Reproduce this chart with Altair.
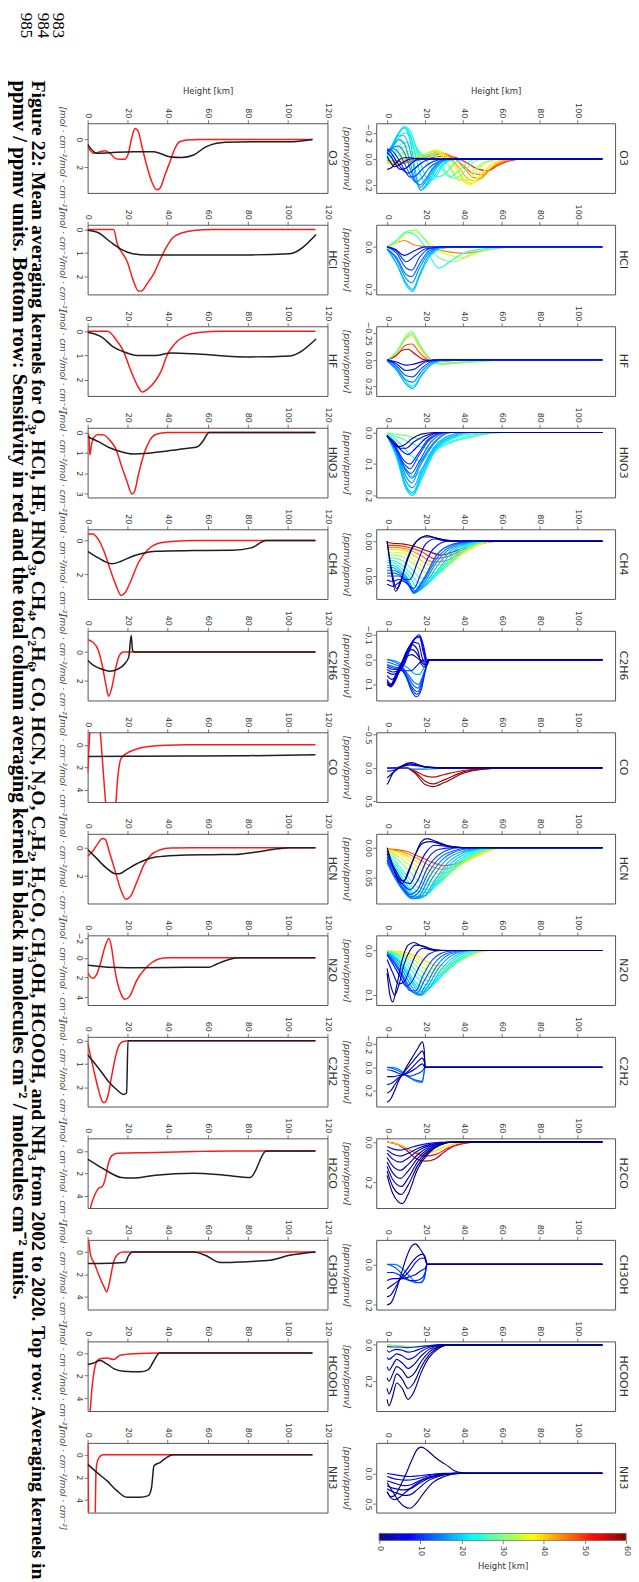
import altair as alt
import pandas as pd

SPECIES = ["O3", "HCl", "HF", "HNO3", "CH4", "C2H6", "CO", "HCN", "N2O",
           "C2H2", "H2CO", "CH3OH", "HCOOH", "NH3"]

AK_DOMAIN = {"O3": (-0.277, 0.262), "HCl": (-0.104, 0.224), "HF": (-0.317, 0.34),
             "HNO3": (-0.015, 0.206), "CH4": (-0.017, 0.083), "C2H6": (-0.116, 0.165),
             "CO": (-0.53, 0.51), "HCN": (-0.023, 0.093), "N2O": (-0.034, 0.122),
             "C2H2": (-0.263, 0.337), "H2CO": (-0.018, 0.327), "CH3OH": (-0.12, 0.222),
             "HCOOH": (-0.019, 0.364), "NH3": (-0.5, 0.64)}
AK_TICKS = {"O3": [-0.2, 0.0, 0.2], "HCl": [0.0, 0.2], "HF": [-0.25, 0.0, 0.25],
            "HNO3": [0.0, 0.1, 0.2], "CH4": [0.0, 0.05], "C2H6": [-0.1, 0.0, 0.1],
            "CO": [-0.5, 0.0, 0.5], "HCN": [0.0, 0.05], "N2O": [0.0, 0.1],
            "C2H2": [-0.2, 0.0, 0.2], "H2CO": [0.0, 0.2], "CH3OH": [0.0, 0.2],
            "HCOOH": [0.0, 0.2], "NH3": [0.0, 0.5]}
AK_FORMAT = {"HF": ".2f", "CH4": ".2f", "HCN": ".2f"}

SENS_DOMAIN = {"O3": (-1.16, 3.84), "HCl": (-0.2, 2.76), "HF": (-0.21, 2.68),
               "HNO3": (-0.23, 3.18), "CH4": (-0.67, 3.45), "C2H6": (-1.47, 3.36),
               "CO": (-1.12, 5.1), "HCN": (-0.99, 3.95), "N2O": (-2.27, 4.77),
               "C2H2": (-0.17, 2.83), "H2CO": (-1.12, 5.1), "CH3OH": (-1.08, 5.14),
               "HCOOH": (-1.02, 5.11), "NH3": (-1.06, 5.12)}
SENS_TICKS = {"O3": [0, 2], "HCl": [0, 1, 2], "HF": [0, 1, 2], "HNO3": [0, 1, 2, 3],
              "CH4": [0, 2], "C2H6": [0, 2], "CO": [0, 2, 4], "HCN": [0, 2],
              "N2O": [-2, 0, 2, 4], "C2H2": [0, 1, 2], "H2CO": [0, 2, 4],
              "CH3OH": [0, 2, 4], "HCOOH": [0, 2, 4], "NH3": [0, 2, 4]}

HEIGHT_TICKS_AK = [0, 20, 40, 60, 80, 100]
HEIGHT_TICKS_SENS = [0, 20, 40, 60, 80, 100, 120]
COLORBAR_TICKS = [0, 10, 20, 30, 40, 50, 60]
AK_TITLE = "[ppmv/ppmv]"
SENS_TITLE = "[mol · cm⁻²/mol · cm⁻²]"
HEIGHT_TITLE = "Height [km]"

RED_O3 = [(0, 0.52), (3, 1.0), (6.3, 0.88), (8.8, 0.81), (11.3, 1.0), (13.8, 1.36), (16.3, 1.43),
          (18.8, 1.43), (20.4, 1.0), (22, -0.07), (23.7, -0.79), (25.4, -0.55), (27, 0.4),
          (29.5, 1.83), (32, 3.0), (34.5, 3.62), (36.2, 3.5), (38.7, 2.55), (41.2, 1.6),
          (43.7, 0.64), (46, 0.17), (49.5, 0.05), (56, 0), (112.5, 0)]
BLACK_O3 = [(0, 0.36), (4.6, 1.0), (11.3, 0.95), (23, 0.88), (33, 0.88), (41, 1.24), (47, 1.3),
            (53, 1.12), (59.4, 0.52), (69, 0.21), (82.7, 0.17), (101, 0.17), (112.5, 0)]
RED_HCL = [(0, 0), (13, 0), (14.9, 0.63), (17.8, 1.06), (19.7, 1.34), (22.6, 2.11), (25.4, 2.61),
           (26.8, 2.62), (30.2, 2.25), (33, 1.9), (36, 1.34), (38.8, 0.85), (42.6, 0.35),
           (47.4, 0.14), (53, 0.04), (62.7, 0), (114, 0)]
BLACK_HCL = [(0, 0.03), (5.4, 0.14), (11, 0.5), (16.8, 0.85), (22.5, 1.03), (30.2, 1.08),
             (53, 1.08), (81.8, 1.08), (101, 1.03), (114.3, 0.21)]
RED_HF = [(0, 0), (10, 0), (14, 0.32), (17.8, 0.8), (21.6, 1.63), (25.4, 2.32), (27.3, 2.52),
          (30.2, 2.39), (34, 2.04), (36.9, 1.63), (39.7, 1.0), (43.6, 0.52), (49.3, 0.18),
          (57, 0.04), (66.5, 0), (114, 0)]
BLACK_HF = [(0, 0.04), (7.3, 0.25), (13, 0.66), (18.7, 0.87), (24.5, 1.0), (34, 1.0), (41.7, 0.9),
            (53, 0.93), (72.2, 1.04), (81.8, 1.06), (101, 1.02), (114.3, 0.32)]
RED_HNO3 = [(0, 0.05), (0.6, 0.13), (1.1, 1.1), (1.9, 0.62), (3.4, 0.21), (5.4, 0.1), (8.2, 0.13),
            (11, 0.37), (14, 0.78), (16.8, 1.59), (19.7, 2.4), (22.2, 3.01), (23.5, 2.88),
            (25.4, 2.07), (28.3, 1.02), (31.2, 0.37), (34, 0.1), (39.8, 0), (114, 0)]
BLACK_HNO3 = [(0, 0.21), (5.4, 0.45), (11, 0.75), (16.8, 0.94), (22.5, 1.05), (30.2, 1.02),
              (39.8, 0.91), (49.3, 0.78), (55, 0.7), (57.5, 0.45), (60.8, 0), (114, 0)]
RED_CH4 = [(0, -0.39), (2.5, -0.39), (5.4, -0.06), (8.2, 0.63), (11, 1.6), (14, 2.59), (16.8, 3.24),
           (18.7, 3.08), (21.6, 2.39), (25.4, 1.31), (30.2, 0.53), (36, 0.14), (43.6, 0.04),
           (53, 0), (114, 0)]
BLACK_CH4 = [(0, 0.63), (5.4, 1.02), (9.2, 1.27), (12, 1.37), (16.8, 1.22), (22.5, 0.92),
             (28.3, 0.73), (34, 0.63), (53, 0.59), (72.2, 0.57), (81.8, 0.43), (89.4, 0), (114, 0)]
RED_C2H6 = [(0, -0.85), (2.5, -0.69), (5.4, -0.11), (7.3, 0.92), (9.2, 2.3), (10.5, 3.06),
            (12, 2.53), (14, 1.15), (15.9, 0.23), (17.8, 0), (114, 0)]
BLACK_C2H6 = [(0, 0.57), (3.4, 0.97), (7.3, 1.2), (11, 1.33), (14.9, 1.2), (18.7, 0.8),
              (20.6, 0.34), (21.8, -1.15), (22.5, -0.11), (23.5, 0), (114, 0)]
RED_CO = [(0, 2.5), (1.2, -1.5), (3, -5), (5, -3.5), (6.3, -1.2), (8.2, 3.3), (9.2, 5.6),
          (11.5, 9), (14, 5.6), (14.9, 3.3), (16.8, 1.19), (19.7, 0.74), (23.5, 0.44),
          (30.2, 0.15), (39.8, 0.03), (50, 0), (114, 0)]
BLACK_CO = [(0, 1.04), (20, 1.02), (50, 1.0), (80, 0.97), (114, 0.89)]
RED_HCN = [(0, 0.59), (2.5, 0.24), (5.4, -0.35), (7.3, -0.66), (8.8, -0.59), (11, 0.35),
           (14, 1.76), (16.8, 3.06), (19.1, 3.65), (21.6, 3.41), (24.5, 2.47), (28.3, 1.18),
           (32, 0.47), (36, 0.16), (41.7, 0.02), (53, 0), (114, 0)]
BLACK_HCN = [(0, 0.12), (3.4, 0.59), (9.2, 1.41), (14, 1.84), (15.9, 1.84), (19.7, 1.53),
             (26.4, 1.01), (34, 0.66), (43.6, 0.54), (62.7, 0.49), (74, 0.47), (83.7, 0.31),
             (95.2, 0.07), (101, 0), (114, 0)]
RED_N2O = [(0, 1.5), (2.5, 2.07), (4.4, 1.73), (6.5, 0.5), (8.5, -1.0), (10.7, -1.95), (12, -1.0),
           (13.3, 0.8), (14.9, 2.5), (16.8, 3.7), (18.7, 4.2), (21, 3.9), (24.5, 2.3),
           (28.3, 1.2), (32, 0.5), (36, 0.1), (40, 0), (114, 0)]
BLACK_N2O = [(0, 0.75), (5, 0.85), (10, 0.95), (20, 1.0), (40, 0.97), (60.8, 0.95), (65, 0.6),
             (70, 0.23), (74, 0.02), (76, 0), (114, 0)]
RED_C2H2 = [(0, 0.1), (1.5, 0.67), (3.4, 1.39), (5.4, 2.1), (7.3, 2.6), (8.2, 2.67), (10.1, 2.39),
            (12, 1.53), (14, 0.67), (15.9, 0.17), (17.8, 0.03), (20.6, 0), (114, 0)]
BLACK_C2H2 = [(0, 0.6), (3.4, 0.96), (7.3, 1.39), (11, 1.81), (14.9, 2.13), (17.8, 2.31),
              (19.5, 2.25), (20.2, 0), (114, 0)]
RED_H2CO = [(0, 6.5), (1.5, 5.04), (3.4, 4.0), (5.4, 3.35), (7.3, 3.17), (8.8, 2.52), (10.1, 1.33),
            (12, 0.44), (14.9, 0.2), (34, 0.15), (53, 0.06), (72, 0), (114, 0)]
BLACK_H2CO = [(0, 0.74), (5.4, 1.33), (11, 1.93), (16.8, 2.37), (22.5, 2.43), (34, 2.17), (53, 2.0),
              (68.4, 2.17), (81.4, 2.37), (89.4, 0), (114, 0)]
RED_CH3OH = [(0, -1.5), (0.6, -0.89), (1.5, 0.3), (3.4, 1.04), (6.3, 2.37), (8.2, 3.11),
             (9.6, 3.56), (11, 2.67), (13, 0.89), (14.9, 0.24), (17.8, 0), (114, 0)]
BLACK_CH3OH = [(0, 1.04), (5.4, 1.04), (18.7, 0.95), (20.6, 0.3), (22.6, 0), (53, 0), (58.9, 0.3),
               (66.5, 0.95), (76, 0.89), (91.4, 0.74), (101, 0.3), (114, 0)]
RED_HCOOH = [(0.5, 7.0), (1.3, 5.1), (2.2, 3.07), (3, 1.9), (4.6, 0.73), (6.3, 0.5), (9.6, 0.44),
             (13, 0.58), (16.3, 0.2), (23, 0.06), (36, 0), (112.5, 0)]
BLACK_HCOOH = [(0, 1.02), (3, 0.88), (6.3, 0.67), (9.6, 0.96), (13, 1.37), (18, 1.6), (26.2, 1.66),
               (30.4, 1.46), (33, 0.73), (35.4, 0.06), (36, 0), (112.5, 0)]
RED_NH3 = [(0, -3.0), (0.9, 9.0), (3.4, 9.0), (3.8, 5.5), (4.2, 1.5), (5, 0.5), (6.5, 0.1), (8, 0),
           (112.5, 0)]
BLACK_NH3 = [(0, 0.82), (4.6, 1.56), (9.6, 2.29), (14.6, 3.18), (19.6, 3.76), (26.2, 3.76),
             (30.4, 3.62), (32, 2.88), (33.2, 0.97), (36.2, 0.68), (39.5, 0.24), (42.8, 0), (112.5, 0)]

K_O3 = [
    (52, [(0, 0.01), (10, 0.02), (20, 0.0), (28, -0.02), (35, -0.015), (42, 0.03), (48, 0.08), (53, 0.09), (58, 0.05), (64, 0.015), (72, 0)]),
    (47, [(0, 0.02), (8, 0.03), (15, 0.01), (22, -0.02), (28, -0.04), (34, -0.02), (40, 0.05), (45, 0.11), (50, 0.12), (55, 0.07), (62, 0.02), (70, 0)]),
    (44.5, [(0, 0.03), (7, 0.035), (14, 0.01), (20, -0.02), (26, -0.05), (31, -0.04), (36, 0.0), (41, 0.08), (45, 0.14), (49, 0.15), (54, 0.08), (60, 0.02), (68, 0)]),
    (42, [(0, 0.03), (6, 0.04), (12, 0.01), (18, -0.02), (24, -0.06), (28, -0.05), (33, -0.01), (38, 0.07), (43, 0.16), (47, 0.17), (52, 0.1), (58, 0.03), (66, 0)]),
    (39.5, [(0, 0.03), (6, 0.03), (11, -0.01), (16, -0.02), (22, -0.05), (26, -0.07), (31, -0.03), (36, 0.05), (41, 0.17), (45, 0.19), (50, 0.11), (56, 0.03), (64, 0)]),
    (37, [(0, 0.03), (5, 0.02), (10, -0.02), (15, -0.02), (20, -0.04), (25, -0.07), (30, -0.03), (35, 0.05), (40, 0.17), (44, 0.2), (49, 0.12), (55, 0.04), (63, 0)]),
    (34.5, [(0, 0.03), (5, 0.01), (9, -0.04), (13, -0.04), (18, -0.03), (22, -0.05), (26, -0.06), (30, -0.01), (34, 0.08), (38, 0.17), (42, 0.17), (47, 0.09), (53, 0.02), (60, 0)]),
    (32, [(0, 0.02), (4, 0.0), (8, -0.05), (12, -0.06), (16, -0.03), (20, -0.02), (24, -0.06), (28, -0.03), (32, 0.05), (37, 0.15), (41, 0.16), (46, 0.08), (52, 0.02), (60, 0)]),
    (29.5, [(0, 0.01), (4, -0.03), (8, -0.09), (12, -0.1), (16, -0.05), (20, -0.03), (24, -0.04), (27, 0.0), (31, 0.1), (35, 0.15), (39, 0.12), (44, 0.04), (50, 0)]),
    (27, [(0, 0.0), (4, -0.05), (8, -0.12), (12, -0.13), (16, -0.06), (20, -0.02), (23, -0.03), (26, 0.0), (29, 0.08), (33, 0.14), (37, 0.1), (42, 0.03), (48, 0)]),
    (25, [(0, -0.01), (3, -0.08), (6, -0.16), (9, -0.2), (12, -0.18), (15, -0.1), (19, -0.02), (22, 0.04), (26, 0.14), (30, 0.12), (35, 0.04), (42, 0)]),
    (23, [(0, -0.02), (3, -0.1), (6, -0.19), (9, -0.25), (12, -0.22), (15, -0.1), (18, 0.05), (21, 0.15), (24, 0.16), (28, 0.08), (33, 0.01), (40, 0)]),
    (21.5, [(0, -0.02), (3, -0.11), (6, -0.2), (9, -0.25), (12, -0.19), (15, -0.02), (18, 0.14), (21, 0.2), (24, 0.15), (28, 0.06), (33, 0.01), (40, 0)]),
    (20, [(0, -0.03), (3, -0.12), (6, -0.2), (9, -0.24), (12, -0.15), (15, 0.1), (17.5, 0.24), (20, 0.22), (23, 0.15), (27, 0.05), (32, 0.0), (38, 0)]),
    (18.5, [(0, -0.04), (3, -0.11), (6, -0.18), (9, -0.18), (12, -0.07), (15, 0.13), (17.5, 0.24), (20, 0.21), (24, 0.1), (29, 0.02), (35, 0)]),
    (17, [(0, -0.05), (3, -0.1), (6, -0.15), (9, -0.12), (12, 0.02), (15, 0.17), (17.5, 0.22), (20, 0.18), (24, 0.08), (29, 0.02), (34, 0)]),
    (15.5, [(0, -0.06), (3, -0.09), (6, -0.1), (9, -0.05), (12, 0.07), (15, 0.18), (17.5, 0.2), (20, 0.16), (24, 0.07), (29, 0.01), (34, 0)]),
    (14, [(0, -0.07), (3, -0.08), (6, -0.05), (9, 0.03), (12, 0.12), (15, 0.18), (18, 0.15), (22, 0.07), (27, 0.02), (32, 0)]),
    (11, [(0, -0.08), (3, -0.06), (6, 0.0), (9, 0.08), (12, 0.14), (15, 0.13), (19, 0.07), (24, 0.02), (30, 0)]),
    (8, [(0, -0.07), (2, -0.05), (5, 0.02), (8, 0.08), (11, 0.11), (14, 0.08), (18, 0.03), (24, 0)]),
    (5, [(0, -0.05), (2, -0.02), (4, 0.03), (7, 0.08), (10, 0.07), (13, 0.03), (17, 0.0), (22, 0)]),
    (3, [(0, -0.02), (2, 0.03), (4, 0.06), (6, 0.05), (9, 0.02), (12, 0), (16, -0.005), (22, 0)]),
    (1, [(0, 0.08), (2, 0.07), (4, 0.04), (6, 0.01), (9, -0.01), (12, -0.01), (16, 0), (20, 0)]),
]
K_HCL = [
    (45, [(0, 0), (5, -0.02), (9, -0.03), (14, -0.01), (20, 0), (30, 0.02), (40, 0.03), (55, 0.01), (65, 0)]),
    (35, [(0, 0), (5, -0.02), (10, -0.06), (15, -0.07), (22, -0.02), (30, 0.03), (40, 0.05), (50, 0.02), (65, 0)]),
    (30, [(0, 0), (5, -0.03), (10, -0.07), (15, -0.08), (20, -0.03), (27, 0.05), (35, 0.07), (45, 0.03), (55, 0.01), (65, 0)]),
    (25, [(0, 0), (5, -0.03), (10, -0.07), (14, -0.06), (20, 0.0), (27, 0.1), (33, 0.07), (40, 0.03), (50, 0.01), (60, 0)]),
    (20, [(0, 0.01), (5, 0.08), (10, 0.18), (13.5, 0.21), (17, 0.14), (22, 0.05), (28, 0.01), (35, 0)]),
    (18, [(0, 0.01), (5, 0.08), (10, 0.17), (13.5, 0.2), (17, 0.13), (22, 0.04), (30, 0)]),
    (16, [(0, 0.01), (5, 0.06), (10, 0.15), (13, 0.17), (17, 0.1), (22, 0.03), (30, 0)]),
    (14, [(0, 0.01), (5, 0.05), (10, 0.13), (13, 0.14), (17, 0.08), (22, 0.02), (30, 0)]),
    (12, [(0, 0), (5, 0.03), (10, 0.1), (13, 0.11), (17, 0.05), (22, 0.01), (30, 0)]),
    (10, [(0, 0), (5, 0.02), (10, 0.07), (15, 0.04), (20, 0.01), (30, 0)]),
    (8, [(0, 0), (4, 0.01), (9, 0.04), (14, 0.02), (20, 0), (30, 0)]),
]
K_HF = [
    (55, [(0, 0), (4, -0.03), (8, -0.09), (11, -0.1), (15, -0.05), (20, 0), (30, 0)]),
    (48, [(0, 0), (5, -0.05), (10, -0.14), (13, -0.15), (17, -0.07), (22, 0), (30, 0.01), (40, 0)]),
    (40, [(0, 0), (5, -0.07), (10, -0.2), (13, -0.23), (17, -0.12), (22, -0.01), (28, 0.03), (40, 0.02), (55, 0)]),
    (32, [(0, 0), (5, -0.08), (10, -0.23), (13, -0.27), (17, -0.15), (22, -0.02), (28, 0.04), (38, 0.03), (55, 0.01), (65, 0)]),
    (28, [(0, 0), (5, -0.07), (10, -0.21), (13, -0.25), (17, -0.14), (22, -0.02), (28, 0.04), (40, 0.02), (60, 0)]),
    (22, [(0, 0.01), (5, 0.09), (10, 0.21), (13.5, 0.25), (18, 0.14), (24, 0.04), (30, 0.01), (38, 0)]),
    (18, [(0, 0.01), (5, 0.1), (10, 0.23), (13.5, 0.27), (18, 0.15), (24, 0.03), (30, 0)]),
    (15, [(0, 0.01), (5, 0.08), (10, 0.19), (13.5, 0.21), (18, 0.11), (24, 0.02), (30, 0)]),
    (12, [(0, 0), (5, 0.06), (10, 0.15), (13.5, 0.16), (18, 0.08), (24, 0.01), (30, 0)]),
    (9, [(0, 0), (5, 0.04), (10, 0.1), (14, 0.09), (20, 0.02), (28, 0)]),
    (6, [(0, 0), (5, 0.02), (10, 0.05), (14, 0.04), (20, 0.01), (28, 0)]),
]
K_HNO3 = [
    (30, [(0, 0.002), (10, 0.01), (20, 0.025), (30, 0.03), (40, 0.02), (50, 0.008), (60, 0)]),
    (27, [(0, 0.003), (8, 0.02), (15, 0.04), (22, 0.05), (30, 0.04), (40, 0.02), (50, 0.006), (60, 0)]),
    (24, [(0, 0.005), (6, 0.03), (12, 0.07), (17, 0.09), (22, 0.07), (30, 0.04), (40, 0.015), (50, 0.003), (58, 0)]),
    (22.5, [(0, 0.008), (5, 0.05), (10, 0.12), (14, 0.14), (19, 0.11), (26, 0.055), (36, 0.015), (48, 0.002), (55, 0)]),
    (21, [(0, 0.01), (5, 0.08), (10, 0.18), (13.5, 0.2), (18, 0.15), (25, 0.06), (35, 0.015), (45, 0)]),
    (20, [(0, 0.01), (5, 0.075), (10, 0.175), (13.5, 0.195), (18, 0.14), (25, 0.055), (35, 0.012), (44, 0)]),
    (19, [(0, 0.01), (5, 0.07), (10, 0.17), (13.5, 0.19), (18, 0.13), (25, 0.05), (35, 0.01), (42, 0)]),
    (17.5, [(0, 0.01), (5, 0.065), (10, 0.155), (13.5, 0.175), (18, 0.12), (25, 0.045), (35, 0.005), (40, 0)]),
    (16, [(0, 0.01), (5, 0.06), (10, 0.14), (13, 0.16), (17, 0.11), (24, 0.04), (34, 0)]),
    (14.5, [(0, 0.01), (5, 0.055), (10, 0.125), (13, 0.145), (17, 0.1), (24, 0.035), (33, 0)]),
    (13, [(0, 0.01), (4, 0.05), (9, 0.11), (12.5, 0.13), (17, 0.09), (23, 0.03), (32, 0)]),
    (11.5, [(0, 0.01), (4, 0.045), (9, 0.1), (12, 0.115), (16, 0.08), (22, 0.025), (31, 0)]),
    (10, [(0, 0.01), (4, 0.04), (9, 0.09), (12, 0.1), (16, 0.07), (22, 0.02), (30, 0)]),
    (7, [(0, 0.01), (4, 0.03), (8, 0.06), (11, 0.07), (15, 0.05), (20, 0.02), (28, 0)]),
    (4, [(0, 0.01), (3, 0.03), (7, 0.05), (10, 0.05), (14, 0.03), (20, 0.01), (28, 0)]),
    (2, [(0, 0.01), (3, 0.03), (6, 0.045), (9, 0.04), (13, 0.02), (18, 0.005), (25, 0)]),
]
K_CH4 = [
    (58, [(0, 0.002), (3, 0.003), (8, 0.004), (15, 0.008), (22, 0.015), (28, 0.02), (35, 0.015), (45, 0.004), (55, 0)]),
    (50, [(0, 0.006), (3, 0.006), (10, 0.008), (18, 0.015), (25, 0.025), (32, 0.022), (40, 0.012), (50, 0.003), (58, 0)]),
    (45, [(0, 0.009), (3, 0.009), (10, 0.011), (18, 0.021), (24, 0.03), (31, 0.028), (39, 0.016), (49, 0.004), (58, 0)]),
    (40, [(0, 0.012), (3, 0.012), (10, 0.014), (18, 0.028), (24, 0.035), (30, 0.033), (38, 0.02), (48, 0.005), (58, 0)]),
    (36, [(0, 0.016), (3, 0.016), (9, 0.018), (16, 0.031), (22, 0.04), (28, 0.039), (35, 0.027), (45, 0.009), (56, 0)]),
    (32, [(0, 0.02), (3, 0.02), (8, 0.022), (15, 0.035), (20, 0.045), (26, 0.045), (33, 0.033), (42, 0.012), (55, 0)]),
    (28, [(0, 0.024), (3, 0.024), (8, 0.028), (13, 0.04), (18, 0.053), (24, 0.052), (31, 0.037), (40, 0.014), (53, 0)]),
    (25, [(0, 0.028), (3, 0.028), (8, 0.035), (12, 0.045), (17, 0.06), (22, 0.058), (29, 0.04), (38, 0.015), (52, 0)]),
    (22.5, [(0, 0.031), (3, 0.031), (7, 0.038), (11, 0.048), (16, 0.066), (21, 0.062), (28, 0.04), (37, 0.014), (51, 0)]),
    (20, [(0, 0.035), (3, 0.035), (7, 0.042), (10, 0.05), (15, 0.072), (20, 0.065), (27, 0.04), (36, 0.012), (50, 0)]),
    (18, [(0, 0.038), (3, 0.038), (6, 0.043), (10, 0.052), (14.5, 0.074), (19.5, 0.064), (26.5, 0.035), (35.5, 0.01), (49, 0)]),
    (16, [(0, 0.042), (3, 0.042), (6, 0.045), (10, 0.055), (14, 0.075), (19, 0.062), (26, 0.03), (35, 0.008), (48, 0)]),
    (14, [(0, 0.046), (3, 0.046), (6, 0.048), (10, 0.056), (14, 0.074), (19, 0.058), (26, 0.025), (35, 0.006), (46, 0)]),
    (12, [(0, 0.05), (3, 0.05), (6, 0.05), (10, 0.058), (14, 0.072), (19, 0.055), (26, 0.02), (35, 0.004), (45, 0)]),
    (9, [(0, 0.056), (3, 0.058), (6, 0.055), (10, 0.06), (14, 0.068), (18, 0.045), (24, 0.012), (32, 0.0), (40, 0)]),
    (6, [(0, 0.062), (3, 0.065), (6, 0.06), (9, 0.055), (12, 0.055), (16, 0.03), (20, 0.005), (25, -0.003), (32, 0)]),
    (3, [(0, 0.0), (2, 0.035), (5, 0.068), (8, 0.05), (11, 0.025), (15, 0.002), (19, -0.006), (23, -0.006), (30, -0.002), (38, 0)]),
    (1, [(0, 0.0), (2, 0.04), (4.5, 0.072), (7, 0.06), (10, 0.03), (14, 0.005), (18, -0.005), (21, -0.008), (26, -0.004), (35, 0)]),
]
K_C2H6 = [
    (17, [(0, 0.0), (4, 0.005), (8, 0.02), (12, 0.04), (15, 0.06), (17, 0.06), (19.5, 0.03), (22, 0)]),
    (14, [(0, 0.0), (4, 0.01), (8, 0.03), (11, 0.06), (14, 0.09), (16.5, 0.1), (19, 0.06), (21, 0.02), (22, 0)]),
    (13, [(0, 0.01), (4, 0.02), (8, 0.035), (11, 0.07), (14, 0.105), (16.2, 0.115), (18.5, 0.08), (20.5, 0.03), (22, 0)]),
    (12, [(0, 0.02), (4, 0.03), (8, 0.04), (11, 0.08), (14, 0.12), (16, 0.13), (18, 0.1), (20, 0.04), (22, 0)]),
    (11, [(0, 0.025), (3.5, 0.035), (7.5, 0.04), (10.5, 0.075), (13.5, 0.125), (15.8, 0.14), (18, 0.11), (20, 0.045), (22, 0)]),
    (10, [(0, 0.03), (3, 0.04), (7, 0.04), (10, 0.07), (13, 0.13), (15.5, 0.15), (18, 0.12), (20, 0.05), (22, 0)]),
    (9, [(0, 0.04), (3, 0.05), (6.5, 0.045), (9.5, 0.045), (12.5, 0.045), (15, 0.03), (17.5, 0.01), (19.5, 0.0), (21, 0.01), (22, 0)]),
    (8, [(0, 0.05), (3, 0.06), (6, 0.05), (9, 0.02), (12, -0.04), (15, -0.09), (17, -0.1), (19, -0.06), (21, 0.0), (22.5, 0)]),
    (7, [(0, 0.065), (2.5, 0.08), (5.5, 0.06), (8.5, 0.02), (11.5, -0.04), (14.5, -0.085), (17, -0.095), (19, -0.045), (21, 0.01), (22.5, 0)]),
    (6, [(0, 0.08), (2, 0.1), (5, 0.07), (8, 0.02), (11, -0.04), (14, -0.08), (17, -0.09), (19, -0.03), (21, 0.02), (22.5, 0)]),
    (5, [(0, 0.09), (2, 0.105), (4.5, 0.08), (7.5, 0.025), (10.5, -0.035), (13.5, -0.07), (16.5, -0.065), (18.5, -0.005), (20.5, 0.025), (22.2, 0)]),
    (4, [(0, 0.1), (2, 0.11), (4, 0.09), (7, 0.03), (10, -0.03), (13, -0.06), (16, -0.04), (18, 0.02), (20, 0.03), (22, 0)]),
    (3, [(0, 0.1), (2, 0.105), (4, 0.08), (7, 0.025), (10, -0.02), (13, -0.04), (16, -0.02), (18, 0.01), (20, 0.02), (22, 0)]),
    (2, [(0, 0.09), (2, 0.1), (4, 0.07), (7, 0.02), (10, -0.01), (13, -0.02), (17, 0.0), (20, 0.01), (22, 0)]),
]
K_CO = [
    (60, [(0, 0), (10, 0.0), (15, 0.09), (20, 0.25), (24, 0.28), (30, 0.22), (40, 0.08), (50, 0.02), (65, 0)]),
    (58, [(0, 0), (10, 0.0), (15, 0.07), (20, 0.2), (24, 0.24), (30, 0.18), (40, 0.06), (50, 0.02), (60, 0)]),
    (55, [(0, 0), (10, 0.0), (15, 0.05), (20, 0.12), (24, 0.14), (30, 0.1), (40, 0.04), (50, 0.01), (60, 0)]),
    (14, [(0, 0.0), (5, 0.0), (10, 0.0), (14, 0.02), (20, 0.02), (28, 0.01), (40, 0)]),
    (10, [(0, 0.01), (4, 0.0), (8, -0.02), (12, -0.04), (16, -0.03), (22, -0.01), (30, 0), (40, 0)]),
    (6, [(0, 0.05), (3, 0.04), (6, 0.01), (9, -0.03), (12, -0.06), (15, -0.05), (19, -0.02), (26, 0), (35, 0)]),
    (3, [(0, 0.15), (2, 0.1), (5, 0.03), (8, -0.03), (11, -0.07), (13, -0.08), (16, -0.05), (21, -0.01), (30, 0)]),
    (1, [(0, 0.25), (1, 0.2), (3, 0.08), (6, 0.0), (9, -0.04), (12, -0.06), (15, -0.04), (20, -0.01), (28, 0)]),
]
K_HCN = [
    (48, [(0, 0.002), (10, 0.006), (17, 0.015), (24, 0.025), (30, 0.03), (36, 0.027), (44, 0.016), (53, 0.005), (60, 0)]),
    (44, [(0, 0.0025), (9, 0.008), (16, 0.018), (22.5, 0.03), (28.5, 0.036), (34.5, 0.033), (42, 0.021), (51.5, 0.007), (60, 0)]),
    (40, [(0, 0.003), (8, 0.01), (15, 0.022), (21, 0.035), (27, 0.043), (33, 0.04), (40, 0.026), (50, 0.01), (60, 0)]),
    (36.5, [(0, 0.004), (7, 0.012), (13.5, 0.026), (19.5, 0.041), (25.5, 0.05), (31.5, 0.045), (38.5, 0.029), (48.5, 0.011), (60, 0)]),
    (33, [(0, 0.005), (6, 0.015), (12, 0.03), (18, 0.048), (24, 0.057), (30, 0.05), (37, 0.032), (47, 0.012), (60, 0)]),
    (30, [(0, 0.008), (5.5, 0.02), (11, 0.037), (17, 0.056), (23, 0.063), (29, 0.054), (36, 0.033), (46, 0.012), (59, 0)]),
    (27, [(0, 0.01), (5, 0.025), (10, 0.045), (16, 0.065), (22, 0.07), (28, 0.058), (35, 0.035), (45, 0.012), (58, 0)]),
    (24.5, [(0, 0.012), (5, 0.03), (10, 0.052), (15.5, 0.072), (21, 0.075), (27, 0.059), (34, 0.034), (44, 0.011), (56, 0)]),
    (22, [(0, 0.015), (5, 0.035), (10, 0.06), (15, 0.078), (20, 0.08), (26, 0.06), (33, 0.033), (43, 0.01), (55, 0)]),
    (20, [(0, 0.018), (5, 0.04), (10, 0.065), (15, 0.082), (19.5, 0.081), (25.5, 0.058), (32.5, 0.029), (42.5, 0.008), (53, 0)]),
    (18, [(0, 0.02), (5, 0.045), (10, 0.07), (15, 0.085), (19, 0.082), (25, 0.055), (32, 0.025), (42, 0.006), (52, 0)]),
    (16.5, [(0, 0.023), (4.5, 0.048), (9, 0.07), (14, 0.085), (18, 0.081), (23.5, 0.052), (30.5, 0.022), (41, 0.005), (50, 0)]),
    (15, [(0, 0.025), (4, 0.05), (8, 0.07), (13, 0.085), (17, 0.08), (22, 0.05), (29, 0.02), (40, 0.003), (48, 0)]),
    (13.5, [(0, 0.023), (4, 0.048), (8, 0.068), (12.5, 0.082), (16.5, 0.075), (21.5, 0.043), (28.5, 0.015), (39, 0.002), (45, 0)]),
    (12, [(0, 0.02), (4, 0.045), (8, 0.065), (12, 0.078), (16, 0.07), (21, 0.035), (28, 0.01), (38, 0)]),
    (9, [(0, 0.015), (4, 0.04), (8, 0.06), (12, 0.07), (16, 0.055), (21, 0.02), (27, 0.003), (35, 0)]),
    (6, [(0, 0.01), (4, 0.035), (8, 0.055), (12, 0.06), (16, 0.035), (20, 0.01), (25, -0.004), (32, -0.002), (40, 0)]),
    (3, [(0, 0.005), (3, 0.03), (6, 0.052), (9, 0.055), (12, 0.035), (15, 0.01), (19, -0.008), (23, -0.01), (30, -0.004), (40, 0)]),
    (1, [(0, 0.0), (3, 0.03), (6, 0.055), (8, 0.06), (11, 0.04), (15, 0.01), (18, -0.01), (21, -0.015), (26, -0.01), (32, -0.003), (40, 0)]),
]
K_N2O = [
    (40, [(0, 0.0), (10, 0.005), (16, 0.013), (21, 0.025), (26, 0.034), (31, 0.033), (37, 0.022), (45, 0.008), (54, 0)]),
    (37, [(0, 0.0005), (9, 0.006), (15, 0.016), (20, 0.031), (25, 0.042), (30, 0.04), (36, 0.027), (44, 0.01), (53, 0)]),
    (34, [(0, 0.001), (8, 0.008), (14, 0.02), (19, 0.038), (24, 0.05), (29, 0.048), (35, 0.032), (43, 0.012), (52, 0)]),
    (31, [(0, 0.0015), (7, 0.009), (13, 0.025), (18, 0.046), (23, 0.059), (28, 0.055), (34, 0.036), (42, 0.013), (51, 0)]),
    (28, [(0, 0.002), (6, 0.01), (12, 0.03), (17, 0.055), (22, 0.068), (27, 0.063), (33, 0.04), (41, 0.015), (50, 0)]),
    (25.5, [(0, 0.0025), (5.5, 0.012), (11, 0.035), (16, 0.062), (20.5, 0.077), (25.5, 0.07), (31.5, 0.044), (39.5, 0.015), (49, 0)]),
    (23, [(0, 0.003), (5, 0.015), (10, 0.04), (15, 0.07), (19, 0.085), (24, 0.078), (30, 0.048), (38, 0.016), (48, 0)]),
    (21, [(0, 0.004), (5, 0.018), (10, 0.045), (15, 0.078), (18.5, 0.093), (23, 0.082), (29, 0.047), (37, 0.014), (46.5, 0)]),
    (19, [(0, 0.005), (5, 0.02), (10, 0.05), (15, 0.085), (18, 0.1), (22, 0.085), (28, 0.045), (36, 0.012), (45, 0)]),
    (17, [(0, 0.005), (4.5, 0.022), (9.5, 0.055), (14, 0.088), (17.2, 0.1), (21, 0.083), (27, 0.04), (34.5, 0.01), (43.5, 0)]),
    (15, [(0, 0.005), (4, 0.025), (9, 0.06), (13, 0.09), (16.5, 0.1), (20, 0.08), (26, 0.035), (33, 0.008), (42, 0)]),
    (13.5, [(0, 0.007), (4, 0.028), (8.5, 0.06), (12.5, 0.09), (15.5, 0.096), (19.5, 0.068), (25, 0.028), (32.5, 0.005), (41, 0)]),
    (12, [(0, 0.01), (4, 0.03), (8, 0.06), (12, 0.09), (15, 0.09), (19, 0.055), (24, 0.02), (32, 0.002), (40, 0)]),
    (9, [(0, 0.01), (3, 0.03), (7, 0.06), (10, 0.08), (13, 0.07), (17, 0.035), (22, 0.008), (28, 0), (35, 0)]),
    (6, [(0, 0.02), (3, 0.05), (6, 0.075), (9, 0.07), (12, 0.04), (15, 0.01), (19, -0.005), (25, 0), (32, 0)]),
    (3, [(0, 0.04), (2, 0.08), (4, 0.1), (6, 0.08), (9, 0.03), (12, 0.0), (15, -0.012), (19, -0.01), (26, 0), (32, 0)]),
    (1, [(0, 0.05), (1.5, 0.1), (3, 0.115), (5, 0.08), (8, 0.02), (11, -0.012), (14, -0.018), (18, -0.01), (25, -0.002), (32, 0)]),
]
K_C2H2 = [
    (16, [(0, 0.0), (3, 0.0), (6, 0.015), (9, 0.05), (12, 0.09), (15, 0.12), (18.5, 0.13), (20, 0)]),
    (13, [(0, 0.0), (3, 0.01), (6, 0.03), (9, 0.06), (12, 0.09), (15, 0.11), (18.5, 0.12), (20, 0)]),
    (10, [(0, 0.02), (3, 0.03), (6, 0.05), (9, 0.065), (12, 0.075), (15, 0.06), (18.5, 0.03), (20, 0)]),
    (7, [(0, 0.08), (3, 0.08), (6, 0.07), (9, 0.06), (12, 0.04), (15, 0.01), (18.5, -0.03), (20, 0)]),
    (5, [(0, 0.15), (3, 0.13), (6, 0.09), (9, 0.06), (12, 0.02), (15, -0.03), (18.5, -0.08), (19.5, -0.05), (20, 0)]),
    (3, [(0, 0.22), (2, 0.2), (4, 0.15), (6, 0.1), (8, 0.06), (10, 0.02), (13, -0.04), (16, -0.1), (18.5, -0.14), (19.5, -0.1), (20, 0)]),
    (1, [(0, 0.3), (2, 0.27), (4, 0.2), (6, 0.12), (8, 0.06), (10, 0.0), (13, -0.08), (16, -0.16), (18.5, -0.22), (19.5, -0.15), (20, 0)]),
]
K_H2CO = [
    (58, [(0, 0), (5, 0.01), (10, 0.04), (15, 0.08), (20, 0.095), (25, 0.085), (30, 0.05), (35, 0.02), (45, 0)]),
    (52, [(0, 0), (8, 0.02), (14, 0.05), (20, 0.07), (26, 0.06), (32, 0.03), (40, 0.008), (48, 0)]),
    (40, [(0, 0), (5, 0.01), (10, 0.03), (15, 0.05), (20, 0.055), (25, 0.045), (30, 0.025), (35, 0.01), (45, 0)]),
    (8, [(0, 0.022), (3, 0.034), (7, 0.04), (11, 0.032), (16, 0.018), (22, 0.007), (28, 0.002), (35, 0)]),
    (6, [(0, 0.039), (3, 0.06), (7, 0.07), (11, 0.056), (16, 0.032), (22, 0.013), (28, 0.004), (35, 0)]),
    (5, [(0, 0.055), (3, 0.085), (7, 0.1), (11, 0.08), (16, 0.045), (22, 0.018), (28, 0.005), (35, 0)]),
    (4, [(0, 0.077), (3, 0.119), (7, 0.14), (11, 0.112), (16, 0.063), (22, 0.025), (28, 0.007), (35, 0)]),
    (3, [(0, 0.099), (3, 0.153), (7, 0.18), (11, 0.144), (16, 0.081), (22, 0.032), (28, 0.009), (35, 0)]),
    (2, [(0, 0.121), (3, 0.187), (7.5, 0.22), (11, 0.18), (16, 0.099), (22, 0.04), (28, 0.011), (35, 0)]),
    (1, [(0, 0.143), (3, 0.221), (7.5, 0.26), (11, 0.215), (16, 0.117), (22, 0.047), (28, 0.013), (35, 0)]),
    (0, [(0, 0.165), (3, 0.255), (8, 0.305), (11, 0.26), (16, 0.135), (22, 0.054), (28, 0.015), (35, 0)]),
]
K_CH3OH = [
    (15, [(0, 0.0), (4, 0.0), (8, 0.02), (11, 0.05), (14, 0.08), (17, 0.09), (19.5, 0.07), (21, 0)]),
    (12, [(0, 0.0), (3, 0.01), (6, 0.03), (9, 0.06), (12, 0.08), (15, 0.09), (18, 0.09), (20, 0.05), (21, 0)]),
    (9, [(0, 0.04), (3, 0.04), (6, 0.05), (9, 0.07), (12, 0.08), (15, 0.08), (18, 0.07), (20, 0.04), (21, 0)]),
    (7, [(0, 0.08), (3, 0.07), (6, 0.07), (9, 0.07), (12, 0.06), (15, 0.05), (18, 0.03), (20, 0.02), (21, 0)]),
    (5, [(0, 0.12), (3, 0.1), (6, 0.08), (9, 0.06), (12, 0.03), (15, -0.01), (18, -0.03), (20, -0.03), (21, 0)]),
    (3, [(0, 0.16), (2, 0.15), (4, 0.12), (7, 0.07), (10, 0.03), (13, -0.01), (16, -0.04), (19, -0.05), (20.5, -0.02), (21, 0)]),
    (1, [(0, 0.2), (2, 0.19), (4, 0.15), (7, 0.06), (10, -0.03), (13, -0.09), (15, -0.1), (17, -0.08), (19.5, -0.04), (21, 0)]),
]
K_HCOOH = [
    (40, [(0, 0.0), (5, 0.005), (10, 0.01), (15, 0.012), (20, 0.008), (28, 0.003), (35, 0)]),
    (30, [(0, 0.0), (5, 0.004), (10, 0.008), (15, 0.01), (22, 0.006), (30, 0.002), (36, 0)]),
    (10, [(0, 0.01), (3, 0.012), (6, 0.012), (10, 0.015), (15, 0.012), (20, 0.006), (28, 0)]),
    (5, [(0, 0.03), (1, 0.04), (3, 0.03), (5, 0.025), (8, 0.03), (11, 0.04), (14, 0.035), (18, 0.02), (22, 0.008), (28, 0)]),
    (4, [(0, 0.07), (1, 0.08), (3, 0.065), (5, 0.05), (8, 0.06), (11, 0.08), (14, 0.07), (18, 0.035), (22, 0.015), (28, 0)]),
    (3, [(0, 0.12), (1, 0.14), (3, 0.11), (5, 0.08), (8, 0.1), (11, 0.13), (14, 0.11), (18, 0.06), (22, 0.025), (27, 0.005), (32, 0)]),
    (2, [(0, 0.18), (1, 0.2), (3, 0.16), (5, 0.12), (8, 0.14), (11, 0.18), (14, 0.16), (18, 0.09), (22, 0.04), (27, 0.01), (32, 0)]),
    (1, [(0, 0.24), (1, 0.27), (3, 0.22), (5, 0.16), (8, 0.19), (11, 0.24), (14, 0.21), (18, 0.12), (22, 0.055), (27, 0.015), (32, 0)]),
    (0, [(0, 0.3), (1, 0.335), (3, 0.28), (5, 0.21), (8, 0.24), (11, 0.3), (14, 0.26), (18, 0.15), (22, 0.07), (27, 0.02), (32, 0)]),
]
K_NH3 = [
    (8, [(0, 0.0), (4, 0.02), (8, 0.04), (12, 0.05), (16, 0.04), (22, 0.02), (30, 0)]),
    (6, [(0, 0.05), (3, 0.08), (6, 0.1), (10, 0.11), (14, 0.1), (18, 0.07), (23, 0.03), (30, 0.005), (36, 0)]),
    (5, [(0, 0.12), (3, 0.15), (6, 0.18), (9, 0.2), (13, 0.18), (17, 0.12), (22, 0.06), (30, 0.01), (36, 0)]),
    (4, [(0, 0.2), (3, 0.24), (6, 0.26), (9, 0.27), (13, 0.24), (17, 0.16), (22, 0.08), (28, 0.03), (36, 0)]),
    (3, [(0, 0.25), (3, 0.3), (6, 0.33), (9, 0.36), (12, 0.35), (16, 0.26), (21, 0.13), (27, 0.05), (35, 0)]),
    (2, [(0, 0.3), (2, 0.4), (4, 0.43), (7, 0.38), (10, 0.3), (14, 0.2), (19, 0.1), (25, 0.04), (32, 0.01), (38, 0)]),
    (1, [(0, 0.15), (3, 0.3), (6, 0.45), (9, 0.54), (12, 0.57), (15, 0.5), (19, 0.33), (24, 0.15), (30, 0.05), (38, 0)]),
    (0, [(0, 0.3), (2, 0.38), (4, 0.36), (7, 0.2), (10, 0.0), (13, -0.22), (16, -0.4), (18, -0.43), (21, -0.38), (25, -0.27), (29, -0.18), (32, -0.12), (35, -0.05), (40, -0.01), (45, 0)]),
]

KERNELS = {"O3": K_O3, "HCl": K_HCL, "HF": K_HF, "HNO3": K_HNO3, "CH4": K_CH4,
           "C2H6": K_C2H6, "CO": K_CO, "HCN": K_HCN, "N2O": K_N2O, "C2H2": K_C2H2,
           "H2CO": K_H2CO, "CH3OH": K_CH3OH, "HCOOH": K_HCOOH, "NH3": K_NH3}
RED = {"O3": RED_O3, "HCl": RED_HCL, "HF": RED_HF, "HNO3": RED_HNO3, "CH4": RED_CH4,
       "C2H6": RED_C2H6, "CO": RED_CO, "HCN": RED_HCN, "N2O": RED_N2O, "C2H2": RED_C2H2,
       "H2CO": RED_H2CO, "CH3OH": RED_CH3OH, "HCOOH": RED_HCOOH, "NH3": RED_NH3}
BLACK = {"O3": BLACK_O3, "HCl": BLACK_HCL, "HF": BLACK_HF, "HNO3": BLACK_HNO3, "CH4": BLACK_CH4,
         "C2H6": BLACK_C2H6, "CO": BLACK_CO, "HCN": BLACK_HCN, "N2O": BLACK_N2O,
         "C2H2": BLACK_C2H2, "H2CO": BLACK_H2CO, "CH3OH": BLACK_CH3OH, "HCOOH": BLACK_HCOOH,
         "NH3": BLACK_NH3}

KERNEL_END = 113.0
JET_DOMAIN = [0, 7.5, 15, 22.5, 30, 37.5, 45, 52.5, 60]
JET_RANGE = ["#00007f", "#0000ff", "#007fff", "#00ffff", "#7fff7f",
             "#ffff00", "#ff7f00", "#ff0000", "#7f0000"]

CAPTION_1 = ("Figure 22: Mean averaging kernels for O₃, HCl, HF, HNO₃, CH₄, C₂H₆, CO, HCN, N₂O, "
             "C₂H₂, H₂CO, CH₃OH, HCOOH, and NH₃ from 2002 to 2020. Top row: Averaging kernels in")
CAPTION_2 = ("ppmv / ppmv units.  Bottom row: Sensitivity in red and the total column averaging "
             "kernel in black in molecules cm⁻² / molecules cm⁻² units.")
LINE_NUMBERS = ["983", "984", "985"]

PW_L, PW_R, PH = 241, 240, 70
TXT = "#333333"
TICK = "#555555"
color_scale = alt.Scale(domain=JET_DOMAIN, range=JET_RANGE, interpolate="rgb")


def h_axis(values, first, tx):
    kw = dict(orient="top", values=values, format="d", labelAngle=90, labelAlign="right",
              labelBaseline="middle", labelFontSize=8, labelColor=TXT, labelPadding=2,
              tickSize=3.5, tickColor=TICK, tickWidth=0.8, domain=False, grid=False,
              labelFlush=False, labelOverlap=False)
    if first:
        kw.update(title=HEIGHT_TITLE, titleAngle=0, titleFontSize=8.5, titleFontWeight="normal",
                  titleColor=TXT, titleX=tx, titleY=-33, titleAlign="center",
                  titleBaseline="middle")
    else:
        kw["title"] = None
    return alt.Axis(**kw)


def v_axis(values, fmt, title, tx, size):
    return alt.Axis(orient="left", values=values, format=fmt, labelAngle=90, labelAlign="center",
                    labelBaseline="top", labelFontSize=8, labelColor=TXT, labelPadding=1.5,
                    tickSize=3.5, tickColor=TICK, tickWidth=0.8, domain=False, grid=False,
                    labelFlush=False, labelOverlap=False, title=title, titleAngle=90,
                    titleFontSize=size, titleFontStyle="italic", titleFontWeight="normal",
                    titleColor="#444444", titleX=tx, titleY=PH / 2, titleAlign="center",
                    titleBaseline="middle")


def text_layer(txt, x, y, size, weight, font="Liberation Serif", align="left", color="black"):
    return alt.Chart(pd.DataFrame({"t": [txt]})).mark_text(
        angle=90, align=align, baseline="middle", font=font,
        fontSize=size, fontWeight=weight, color=color
    ).encode(x=alt.value(x), y=alt.value(y), text="t:N")


def left_cell(i, sp):
    x = alt.X("z:Q", scale=alt.Scale(domain=[0, 120], nice=False, zero=False),
              axis=h_axis(HEIGHT_TICKS_SENS, i == 0, PW_L / 2))
    y = alt.Y("v:Q", scale=alt.Scale(domain=list(SENS_DOMAIN[sp]), reverse=True, nice=False, zero=False),
              axis=v_axis(SENS_TICKS[sp], "d", SENS_TITLE, -25, 9))
    red = alt.Chart(pd.DataFrame(RED[sp], columns=["z", "v"])).mark_line(
        color="#ff1a1a", strokeWidth=1.5, clip=True, interpolate="monotone").encode(x=x, y=y)
    black = alt.Chart(pd.DataFrame(BLACK[sp], columns=["z", "v"])).mark_line(
        color="#1e1e1e", strokeWidth=1.5, clip=True, interpolate="monotone").encode(x=x, y=y)
    layers = [red, black,
              text_layer(sp, PW_L + 5, PH / 2, 11, "normal", "DejaVu Sans", "center", TXT)]
    if i == 0:
        layers += [text_layer(LINE_NUMBERS[0], -30, -111, 17, "normal"),
                   text_layer(LINE_NUMBERS[1], -45, -111, 17, "normal"),
                   text_layer(LINE_NUMBERS[2], -62, -111, 17, "normal"),
                   text_layer(CAPTION_1, -50, -43, 19.8, "bold"),
                   text_layer(CAPTION_2, -69, -43, 20.8, "bold")]
    return alt.layer(*layers).properties(width=PW_L, height=PH)


def right_cell(i, sp):
    rows = []
    curves = sorted(KERNELS[sp], key=lambda c: -c[0])
    for cid, (h, pts) in enumerate(curves):
        for z, v in pts:
            rows.append((cid, h, z, v))
        rows.append((cid, h, KERNEL_END, 0.0))
    df = pd.DataFrame(rows, columns=["cid", "h", "z", "v"])
    kern = alt.Chart(df).mark_line(strokeWidth=1.15, interpolate="monotone").encode(
        x=alt.X("z:Q", scale=alt.Scale(domain=[-5.7, 119.7], nice=False, zero=False),
                axis=h_axis(HEIGHT_TICKS_AK, i == 0, PW_R / 2)),
        y=alt.Y("v:Q", scale=alt.Scale(domain=list(AK_DOMAIN[sp]), reverse=True, nice=False, zero=False),
                axis=v_axis(AK_TICKS[sp], AK_FORMAT.get(sp, ".1f"), AK_TITLE, -30, 9.5)),
        color=alt.Color("h:Q", scale=color_scale, legend=None),
        detail="cid:N",
    )
    label = text_layer(sp, PW_R + 8, PH / 2, 11, "normal", "DejaVu Sans", "center", TXT)
    if sp != SPECIES[-1]:
        return alt.layer(kern, label).properties(width=PW_R, height=PH)
    steps = [k * 0.5 for k in range(120)]
    cbdf = pd.DataFrame({"c0": steps, "c1": [s + 0.5 for s in steps], "h": [s + 0.25 for s in steps]})
    cb_axis = alt.Axis(orient="bottom", offset=28, values=COLORBAR_TICKS, format="d", labelAngle=90,
                       labelAlign="left", labelBaseline="middle", labelFontSize=8, labelColor=TXT,
                       labelPadding=2, tickSize=3, tickColor=TICK, tickWidth=0.8, domain=False,
                       grid=False, labelFlush=False, labelOverlap=False, title=HEIGHT_TITLE,
                       titleAngle=0, titleFontSize=8.5, titleFontWeight="normal", titleColor=TXT,
                       titleX=127, titleY=25, titleAlign="center", titleBaseline="middle")
    cbx = alt.Scale(domain=[0, 60], range=[3, 251], nice=False, zero=False)
    cbar = alt.Chart(cbdf).mark_rect(strokeWidth=0.6).encode(
        x=alt.X("c0:Q", scale=cbx, axis=cb_axis), x2="c1:Q",
        y=alt.value(91), y2=alt.value(98),
        color=alt.Color("h:Q", scale=color_scale, legend=None),
        stroke=alt.Stroke("h:Q", scale=color_scale, legend=None),
    )
    frame = alt.Chart(pd.DataFrame({"c0": [0.0], "c1": [60.0]})).mark_rect(
        fillOpacity=0, stroke="#777777", strokeWidth=0.8).encode(
        x=alt.X("c0:Q", scale=cbx, axis=cb_axis), x2="c1:Q",
        y=alt.value(91), y2=alt.value(98))
    return alt.layer(alt.layer(kern, label), alt.layer(cbar, frame)).resolve_scale(
        x="independent").properties(width=PW_R, height=PH)


cells = []
for i, sp in enumerate(SPECIES):
    cells.append(left_cell(i, sp))
    cells.append(right_cell(i, sp))

chart = alt.concat(*cells, columns=2, spacing={"row": 32, "column": 49}, bounds="flush",
                   padding=0, background="white").configure(
    font="DejaVu Sans").configure_view(stroke="#555555", strokeWidth=1)

chart.save("out.html", embed_options={"renderer": "svg", "actions": False})
